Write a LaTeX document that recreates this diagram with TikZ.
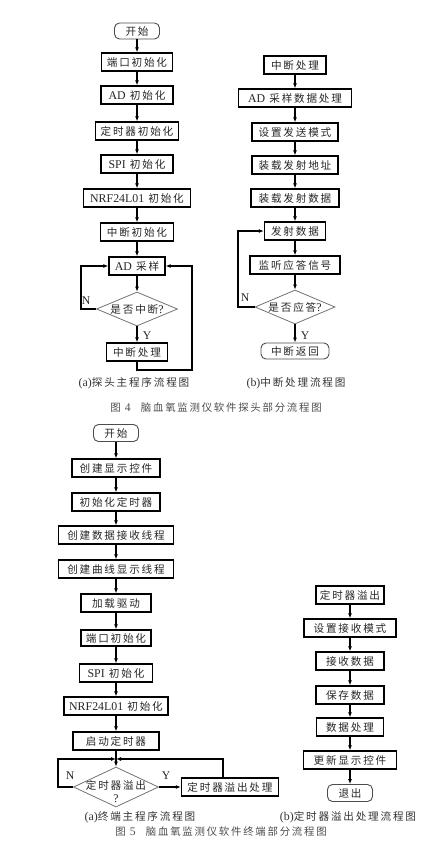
\documentclass[tikz,border=0pt]{standalone}
\usepackage{fontspec}
\setmainfont{Noto Sans CJK SC}[LetterSpace=17]
\newfontfamily\lat{Liberation Serif}[Scale=1.12]
\usetikzlibrary{shapes.geometric,arrows.meta}
\begin{document}
\begin{tikzpicture}[x=1pt,y=-1pt,
 box/.style={draw=black, line width=1.3pt, minimum height=18pt, inner sep=0pt, font=\fontsize{10.6}{12}\selectfont, text=black!85},
 term/.style={draw=black!70, line width=0.9pt, rounded corners=5pt, minimum height=16pt, inner sep=0pt, font=\fontsize{10.6}{12}\selectfont, text=black!85},
 dia/.style={diamond, draw=black!55, line width=0.8pt, inner sep=0pt},
 txt/.style={inner sep=0pt, font=\fontsize{10.6}{12}\selectfont, text=black!85},
 lbl/.style={inner sep=0pt, font=\lat\fontsize{10.5}{12}\selectfont, text=black!85},
 arr/.style={draw=black, line width=1.2pt, -{Latex[length=5pt,width=4pt]}},
 capt/.style={inner sep=0pt, font=\fontsize{10.6}{12}\selectfont, text=black!80},
 figt/.style={inner sep=0pt, font=\fontsize{10.4}{12}\selectfont, text=black!70}
]
\useasboundingbox (0,0) rectangle (434,855);
% ---------- (a) probe main program ----------
\node[term, minimum width=45pt] (a0) at (137,31) {开始};
\node[box, minimum width=71pt] (a1) at (137,62) {端口初始化};
\node[box, minimum width=72pt] (a2) at (137,95) {{\lat AD} 初始化};
\node[box, minimum width=83pt] (a3) at (137,131) {定时器初始化};
\node[box, minimum width=72pt] (a4) at (137,164) {{\lat SPI} 初始化};
\node[box, minimum width=107pt] (a5) at (137,198) {{\lat NRF24L01} 初始化};
\node[box, minimum width=73pt] (a6) at (137,232) {中断初始化};
\node[box, minimum width=56pt] (a7) at (137,266) {{\lat AD} 采样};
\node[dia, minimum width=81pt, minimum height=34pt] (ad) at (137,309) {};
\node[txt] (adt) at (137,309) {是否中断{\lat ?}};
\node[box, minimum width=61pt] (a8) at (137,352) {中断处理};
\node[lbl] (aN) at (86,301) {N};
\node[lbl] (aY) at (147,336) {Y};
\coordinate (aL) at (81,309);
\coordinate (aR) at (192,370);
\draw[arr] (a0) -- (a1);
\draw[arr] (a1) -- (a2);
\draw[arr] (a2) -- (a3);
\draw[arr] (a3) -- (a4);
\draw[arr] (a4) -- (a5);
\draw[arr] (a5) -- (a6);
\draw[arr] (a6) -- (a7);
\draw[arr] (a7) -- (ad);
\draw[arr] (ad) -- (a8);
\draw[arr] (ad.west) -- (aL) |- (a7.west);
\draw[arr] (a8.south) |- (aR) |- (a7.east);
% ---------- (b) interrupt handling ----------
\node[box, minimum width=62pt] (b0) at (295,65) {中断处理};
\node[box, minimum width=113pt] (b1) at (295,98) {{\lat AD} 采样数据处理};
\node[box, minimum width=86pt] (b2) at (295,132) {设置发送模式};
\node[box, minimum width=86pt] (b3) at (295,165) {装载发射地址};
\node[box, minimum width=88pt] (b4) at (295,198) {装载发射数据};
\node[box, minimum width=61pt] (b5) at (295,231) {发射数据};
\node[box, minimum width=90pt] (b6) at (295,265) {监听应答信号};
\node[dia, minimum width=80pt, minimum height=34pt] (bd) at (295,307) {};
\node[txt] (bdt) at (295,307) {是否应答{\lat ?}};
\node[term, minimum width=68pt] (b7) at (295,351) {中断返回};
\node[lbl] (bN) at (245,298) {N};
\node[lbl] (bY) at (305,336) {Y};
\coordinate (bL) at (238,307);
\draw[arr] (b0) -- (b1);
\draw[arr] (b1) -- (b2);
\draw[arr] (b2) -- (b3);
\draw[arr] (b3) -- (b4);
\draw[arr] (b4) -- (b5);
\draw[arr] (b5) -- (b6);
\draw[arr] (b6) -- (bd);
\draw[arr] (bd) -- (b7);
\draw[arr] (bd.west) -- (bL) |- (b5.west);
% captions fig 4
\node[capt] (capa) at (134,383) {{\lat (a)}探头主程序流程图};
\node[capt] (capb) at (296,383) {{\lat (b)}中断处理流程图};
\node[figt] (fig4) at (216,408) {图 {\lat 4}\quad 脑血氧监测仪软件探头部分流程图};
% ---------- (a) terminal main program ----------
\node[term, minimum width=45pt, minimum height=17pt] (c0) at (116,433) {开始};
\node[box, minimum width=88pt] (c1) at (116,468) {创建显示控件};
\node[box, minimum width=88pt] (c2) at (116,502) {初始化定时器};
\node[box, minimum width=115pt] (c3) at (116,535) {创建数据接收线程};
\node[box, minimum width=115pt] (c4) at (116,569) {创建曲线显示线程};
\node[box, minimum width=70pt] (c5) at (116,603) {加载驱动};
\node[box, minimum width=70pt, minimum height=16pt] (c6) at (116,638) {端口初始化};
\node[box, minimum width=73pt] (c7) at (116,673) {{\lat SPI} 初始化};
\node[box, minimum width=104pt] (c8) at (116,706) {{\lat NRF24L01} 初始化};
\node[box, minimum width=86pt] (c9) at (116,741) {启动定时器};
\coordinate (cJ) at (116,759);
\node[dia, minimum width=85pt, minimum height=40pt] (cd) at (116,787) {};
\node[txt] (cdt) at (116,785) {定时器溢出};
\node[lbl] (cdq) at (116,799) {?};
\node[box, minimum width=97pt] (c10) at (230,787) {定时器溢出处理};
\node[lbl] (cN) at (70,776) {N};
\node[lbl] (cY) at (166,776) {Y};
\coordinate (cL) at (58,787);
\coordinate (cR) at (223,759);
\draw[arr] (c0) -- (c1);
\draw[arr] (c1) -- (c2);
\draw[arr] (c2) -- (c3);
\draw[arr] (c3) -- (c4);
\draw[arr] (c4) -- (c5);
\draw[arr] (c5) -- (c6);
\draw[arr] (c6) -- (c7);
\draw[arr] (c7) -- (c8);
\draw[arr] (c8) -- (c9);
\draw[arr] (c9) -- (cd);
\draw[arr] (cd.west) -- (cL) |- (cJ);
\draw[arr] (c10.north -| cR) -- (cR) -- (cJ);
\draw[arr] (cd.east) -- (c10.west);
% ---------- (b) timer overflow handling ----------
\node[box, minimum width=68pt] (e0) at (350,595) {定时器溢出};
\node[box, minimum width=92pt] (e1) at (350,628) {设置接收模式};
\node[box, minimum width=68pt] (e2) at (350,661) {接收数据};
\node[box, minimum width=68pt] (e3) at (350,695) {保存数据};
\node[box, minimum width=67pt] (e4) at (350,727) {数据处理};
\node[box, minimum width=93pt] (e5) at (350,760) {更新显示控件};
\node[term, minimum width=45pt, minimum height=17pt] (e6) at (350,793) {退出};
\draw[arr] (e0) -- (e1);
\draw[arr] (e1) -- (e2);
\draw[arr] (e2) -- (e3);
\draw[arr] (e3) -- (e4);
\draw[arr] (e4) -- (e5);
\draw[arr] (e5) -- (e6);
% captions fig 5
\node[capt] (capc) at (140,817) {{\lat (a)}终端主程序流程图};
\node[capt] (capd) at (348,817) {{\lat (b)}定时器溢出处理流程图};
\node[figt] (fig5) at (221,832) {图 {\lat 5}\quad 脑血氧监测仪软件终端部分流程图};
\end{tikzpicture}
\end{document}
